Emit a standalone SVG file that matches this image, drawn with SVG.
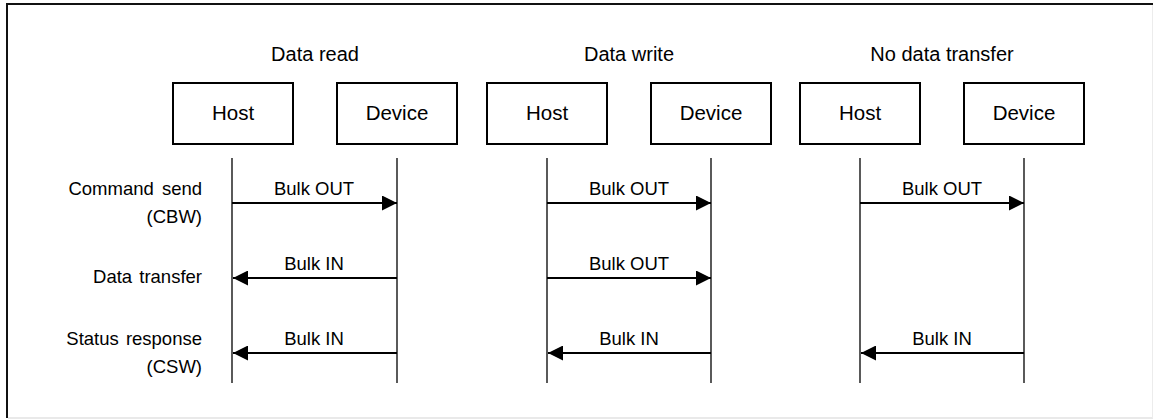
<svg xmlns="http://www.w3.org/2000/svg" width="1153" height="419" viewBox="0 0 1153 419">
  <style>
    text { font-family: "Liberation Sans", Arial, sans-serif; fill: #000; }
    .title { font-size: 20px; text-anchor: middle; }
    .node rect { fill: #fff; stroke: #000; stroke-width: 2; }
    .node text { font-size: 20.5px; text-anchor: middle; }
    .lifeline { stroke: #000; stroke-width: 1.3; }
    .msg { stroke: #000; stroke-width: 2.2; fill: none; }
    .msg-label { font-size: 18.5px; text-anchor: middle; }
    .phase { font-size: 18.5px; text-anchor: end; }
  </style>
  <defs>
    <marker id="head" viewBox="0 0 15 15" refX="15" refY="7.5" markerWidth="15" markerHeight="15" markerUnits="userSpaceOnUse" orient="auto">
      <path d="M0,0 L15,7.5 L0,15 Z" fill="#000"/>
    </marker>
  </defs>

  <rect x="0" y="0" width="1153" height="419" fill="#fff"/>
  <!-- frame -->
  <g id="frame">
    <line x1="7" y1="4" x2="1153" y2="4" stroke="#111" stroke-width="2"/>
    <line x1="7" y1="3" x2="7" y2="418" stroke="#111" stroke-width="2"/>
    <line x1="8" y1="418" x2="1153" y2="418" stroke="#e2e2e2" stroke-width="1.5"/>
    <line x1="1152.5" y1="5" x2="1152.5" y2="418" stroke="#ececec" stroke-width="1"/>
  </g>

  <!-- phase labels -->
  <g id="phases">
    <text class="phase" x="202" y="195" word-spacing="3">Command send</text>
    <text class="phase" x="202" y="223">(CBW)</text>
    <text class="phase" x="202" y="283" word-spacing="2">Data transfer</text>
    <text class="phase" x="202" y="345" word-spacing="2">Status response</text>
    <text class="phase" x="202" y="373">(CSW)</text>
  </g>

  <!-- column titles -->
  <g id="titles">
    <text class="title" x="315" y="61">Data read</text>
    <text class="title" x="629" y="61">Data write</text>
    <text class="title" x="942" y="61">No data transfer</text>
  </g>

  <!-- participants -->
  <g id="read-host" class="node">
    <rect x="173" y="83" width="120" height="61"/>
    <text x="233" y="120">Host</text>
  </g>
  <g id="read-device" class="node">
    <rect x="337" y="83" width="120" height="61"/>
    <text x="397" y="120">Device</text>
  </g>
  <g id="write-host" class="node">
    <rect x="487" y="83" width="120" height="61"/>
    <text x="547" y="120">Host</text>
  </g>
  <g id="write-device" class="node">
    <rect x="651" y="83" width="120" height="61"/>
    <text x="711" y="120">Device</text>
  </g>
  <g id="none-host" class="node">
    <rect x="800" y="83" width="120" height="61"/>
    <text x="860" y="120">Host</text>
  </g>
  <g id="none-device" class="node">
    <rect x="964" y="83" width="120" height="61"/>
    <text x="1024" y="120">Device</text>
  </g>

  <!-- lifelines and messages -->
  <g id="connectors">
    <line class="lifeline" x1="232" y1="158" x2="232" y2="383"/>
    <line class="lifeline" x1="397" y1="158" x2="397" y2="383"/>
    <line class="lifeline" x1="547" y1="158" x2="547" y2="383"/>
    <line class="lifeline" x1="711" y1="158" x2="711" y2="383"/>
    <line class="lifeline" x1="860" y1="158" x2="860" y2="383"/>
    <line class="lifeline" x1="1024" y1="158" x2="1024" y2="383"/>

    <!-- data read -->
    <line class="msg" x1="232" y1="203" x2="397" y2="203" marker-end="url(#head)"/>
    <line class="msg" x1="397" y1="278" x2="233" y2="278" marker-end="url(#head)"/>
    <line class="msg" x1="397" y1="353" x2="233" y2="353" marker-end="url(#head)"/>

    <!-- data write -->
    <line class="msg" x1="547" y1="203" x2="711" y2="203" marker-end="url(#head)"/>
    <line class="msg" x1="547" y1="278" x2="711" y2="278" marker-end="url(#head)"/>
    <line class="msg" x1="711" y1="353" x2="548" y2="353" marker-end="url(#head)"/>

    <!-- no data transfer -->
    <line class="msg" x1="860" y1="203" x2="1024" y2="203" marker-end="url(#head)"/>
    <line class="msg" x1="1024" y1="353" x2="861" y2="353" marker-end="url(#head)"/>
  </g>

  <!-- message labels -->
  <g id="message-labels">
    <text class="msg-label" x="314" y="195">Bulk OUT</text>
    <text class="msg-label" x="314" y="270">Bulk IN</text>
    <text class="msg-label" x="314" y="345">Bulk IN</text>
    <text class="msg-label" x="629" y="195">Bulk OUT</text>
    <text class="msg-label" x="629" y="270">Bulk OUT</text>
    <text class="msg-label" x="629" y="345">Bulk IN</text>
    <text class="msg-label" x="942" y="195">Bulk OUT</text>
    <text class="msg-label" x="942" y="345">Bulk IN</text>
  </g>
</svg>
